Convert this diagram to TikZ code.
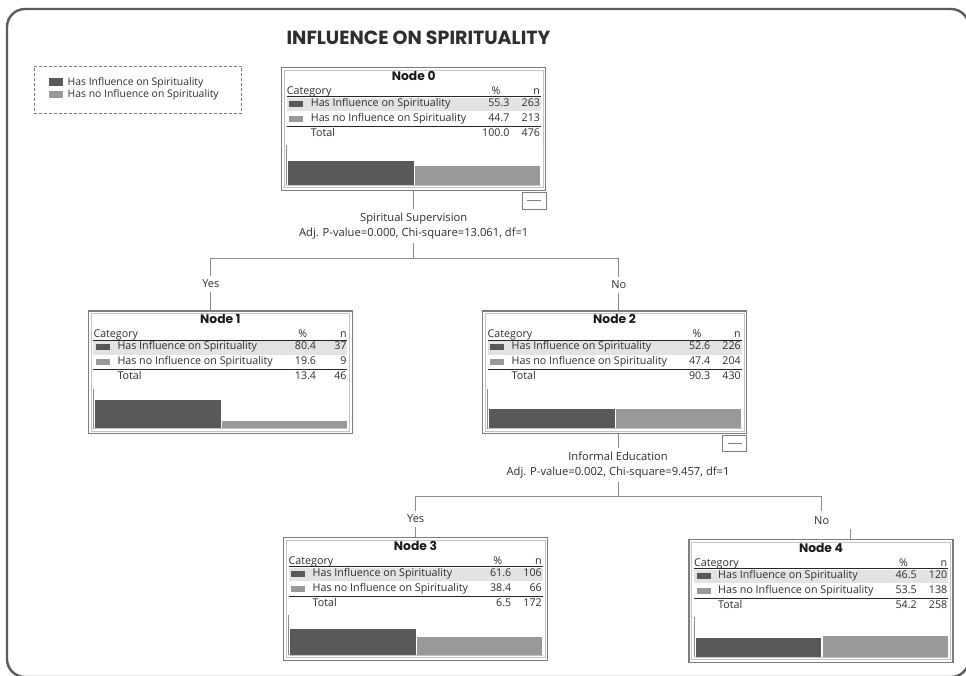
\documentclass[tikz,border=0pt]{standalone}
\usepackage{fontspec}
\setmainfont{Open Sans}
\newfontfamily\poppins{Poppins}
\definecolor{textc}{HTML}{2E2E2E}
\definecolor{boxgray}{HTML}{7D7D7D}
\definecolor{innergray}{HTML}{C4C4C4}
\definecolor{rowbg}{HTML}{E3E3E3}
\definecolor{darkbarc}{HTML}{58595B}
\definecolor{lightbarc}{HTML}{98999B}
\definecolor{conngray}{HTML}{8C8C8C}
\definecolor{framegray}{HTML}{5B5B5B}
\tikzset{
  txt/.style={inner sep=0, text=textc, font=\fontsize{10.7}{12}\selectfont},
  legtxt/.style={inner sep=0, text=textc, font=\fontsize{10.4}{12}\selectfont},
  nbox/.style={draw=boxgray, line width=1.3pt, fill=white, minimum width=264pt, minimum height=122.8pt, inner sep=0},
  ninner/.style={draw=innergray, line width=0.6pt},
  hline/.style={draw=black!85, line width=1.3pt},
  axisl/.style={draw=conngray, line width=0.8pt},
  baseln/.style={draw=innergray, line width=0.6pt},
  darkbar/.style={fill=darkbarc},
  lightbar/.style={fill=lightbarc},
  conn/.style={draw=conngray, line width=0.9pt},
  ntitle/.style={inner sep=0, text=black!90, font=\poppins\bfseries\fontsize{12.3}{14}\selectfont},
  titletxt/.style={inner sep=0, text=textc, font=\poppins\bfseries\fontsize{19}{22}\selectfont},
  splitlab/.style={align=center, inner xsep=0, inner ysep=3.5pt, text=textc, font=\fontsize{11.2}{15.3}\selectfont},
  ynlab/.style={inner sep=0, minimum height=15.5pt, text=textc, font=\fontsize{11}{12}\selectfont},
  minusbox/.style={draw=boxgray, line width=0.8pt, minimum width=24pt, minimum height=16.4pt, inner sep=0, fill=white},
  legbox/.style={draw=boxgray, line width=0.8pt, dash pattern=on 3pt off 2pt, minimum width=207.7pt, minimum height=47.3pt, inner sep=0},
  frame/.style={draw=framegray, line width=2.4pt, rounded corners=18pt},
}
% #1 name, #2 p1, #3 n1, #4 p2, #5 n2, #6 ptot, #7 ntot, #8 h1, #9 h2
\newcommand\mytreebox[9]{%
  \node[nbox] (#1) at (132,61.4) {};
  \draw[ninner] (2.6,2.6) rectangle (261.4,120.2);
  \fill[rowbg] (5,30) rectangle (259,43.7);
  \node[txt,anchor=mid west] at (5,24) {Category};
  \node[txt,anchor=mid east] at (219,24) {\%};
  \node[txt,anchor=mid east] at (258.5,24) {n};
  \draw[hline] (5,29.3) -- (259,29.3);
  \fill[darkbar] (7.5,33.3) rectangle (21.5,39.3);
  \node[txt,anchor=mid west] at (29,36.3) {Has Influence on Spirituality};
  \node[txt,anchor=mid east] at (228,36.3) {#2};
  \node[txt,anchor=mid east] at (258.5,36.3) {#3};
  \fill[lightbar] (7.5,48.3) rectangle (21.5,54.3);
  \node[txt,anchor=mid west] at (29,51.3) {Has no Influence on Spirituality};
  \node[txt,anchor=mid east] at (228,51.3) {#4};
  \node[txt,anchor=mid east] at (258.5,51.3) {#5};
  \draw[hline] (5,58.7) -- (259,58.7);
  \node[txt,anchor=mid west] at (29,66.2) {Total};
  \node[txt,anchor=mid east] at (228,66.2) {#6};
  \node[txt,anchor=mid east] at (258.5,66.2) {#7};
  \draw[axisl] (5,77.5) -- (5,117.5);
  \fill[darkbar] (6.5,117) rectangle (132.3,{117-#8});
  \fill[lightbar] (133.7,117) rectangle (258.5,{117-#9});
  \draw[baseln] (5.5,117.6) -- (259,117.6);
}
\begin{document}
\begin{tikzpicture}[x=1pt,y=-1pt]
\useasboundingbox (0,0) rectangle (966,675);
\clip (0,0) rectangle (966,675);
\fill[white] (0,0) rectangle (966,675);
\draw[frame] (7,9) rectangle (969,677);
\node[titletxt] (title) at (418.5,38) {INFLUENCE ON SPIRITUALITY};
% legend
\node[legbox] (leg) at (137.85,89.65) {};
\fill[darkbar] (49.3,78) rectangle (62.7,85.5);
\node[legtxt,anchor=mid west] (leg1) at (67.5,82.5) {Has Influence on Spirituality};
\fill[lightbar] (49.3,90.7) rectangle (62.7,98.2);
\node[legtxt,anchor=mid west] (leg2) at (67.5,94.7) {Has no Influence on Spirituality};
% Node 0
\begin{scope}[shift={(281.7,67.5)}]
  \mytreebox{n0}{55.3}{263}{44.7}{213}{100.0}{476}{23.3}{18.3}
  \node[ntitle] (n0t) at (132,8.2) {Node 0};
  \node[minusbox] (m0) at (252.2,133.4) {\textcolor{boxgray}{\rule{14pt}{0.9pt}}};
\end{scope}
% Node 1
\begin{scope}[shift={(88.3,311)}]
  \mytreebox{n1}{80.4}{37}{19.6}{9}{13.4}{46}{28.4}{6.7}
  \node[ntitle] (n1t) at (132,8.2) {Node 1};
\end{scope}
% Node 2
\begin{scope}[shift={(482.5,311)}]
  \mytreebox{n2}{52.6}{226}{47.4}{204}{90.3}{430}{19.5}{18.7}
  \node[ntitle] (n2t) at (132,8.2) {Node 2};
  \node[minusbox] (m2) at (252.2,132.6) {\textcolor{boxgray}{\rule{14pt}{0.9pt}}};
\end{scope}
% Node 3
\begin{scope}[shift={(283.5,537.5)}]
  \mytreebox{n3}{61.6}{106}{38.4}{66}{6.5}{172}{26}{18}
  \node[ntitle] (n3t) at (132,8.2) {Node 3};
\end{scope}
% Node 4
\begin{scope}[shift={(689,539.5)}]
  \mytreebox{n4}{46.5}{120}{53.5}{138}{54.2}{258}{18.3}{20.3}
  \node[ntitle] (n4t) at (132,8.2) {Node 4};
\end{scope}
% split of node 0
\node[splitlab] (s0) at (413.7,226.2) {Spiritual Supervision\\Adj. P-value=0.000, Chi-square=13.061, df=1};
\draw[conn] (n0.south) -- (s0.north);
\coordinate (j0) at (413.7,258);
\coordinate (j0l) at (210.8,258);
\coordinate (j0r) at (618.8,258);
\draw[conn] (s0.south) -- (j0);
\draw[conn] (j0l) -- (j0r);
\node[ynlab] (y1) at (210.8,283.7) {Yes};
\node[ynlab] (no2) at (618.8,285) {No};
\draw[conn] (j0l) -- (y1.north);
\draw[conn] (y1.south) -- (y1.south |- n1.north);
\draw[conn] (j0r) -- (no2.north);
\draw[conn] (no2.south) -- (no2.south |- n2.north);
% split of node 2
\node[splitlab] (s2) at (618,464.9) {Informal Education\\Adj. P-value=0.002, Chi-square=9.457, df=1};
\draw[conn] (s2.north |- n2.south) -- (s2.north);
\coordinate (j2) at (618,496);
\coordinate (j2l) at (415.7,496);
\coordinate (j2r) at (821.7,496);
\draw[conn] (s2.south) -- (j2);
\draw[conn] (j2l) -- (j2r);
\node[ynlab] (y3) at (415.7,519) {Yes};
\node[ynlab,minimum height=19pt] (no4) at (821.7,520.5) {No};
\draw[conn] (j2l) -- (y3.north);
\draw[conn] (y3.south) -- (y3.south |- n3.north);
\draw[conn] (j2r) -- (no4.north);
\coordinate (stub4) at (850,529.3);
\draw[conn] (stub4) -- (stub4 |- n4.north);
\end{tikzpicture}
\end{document}
